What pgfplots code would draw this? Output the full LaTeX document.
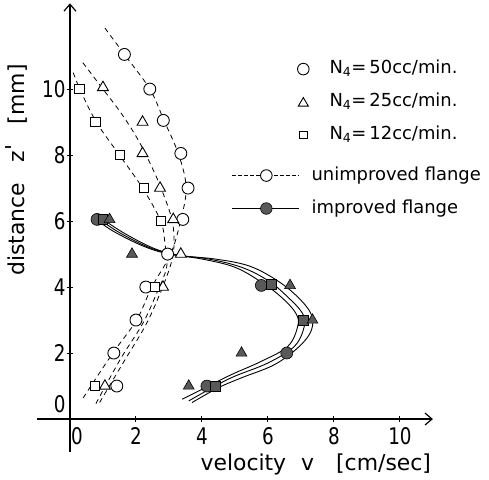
\documentclass[border=0pt]{standalone}
\usepackage{fontspec}
\setmainfont{DejaVu Sans}
\newfontfamily\tickfont{DejaVu Sans}[FakeStretch=0.8]
\usepackage{pgfplots}
\pgfplotsset{compat=1.18}
\usetikzlibrary{arrows.meta}
\begin{document}
\begin{tikzpicture}
\begin{axis}[
  x=33bp, y=33bp,
  xmin=-1, xmax=11, ymin=-1, ymax=12.6,
  axis lines=middle,
  axis line style={line width=1.2pt, -{Straight Barb[length=7pt,width=12pt]}},
  clip=false,
  xtick={2,4,6,8,10},
  ytick={2,4,6,8,10},
  extra x ticks={0}, extra x tick style={xticklabel style={xshift=7bp}},
  extra y ticks={0}, extra y tick style={yticklabel style={yshift=15bp}},
  hide obscured x ticks=false, hide obscured y ticks=false,
  tick style={black, line width=1pt}, major tick length=6bp,
  tick align=center,
  /pgf/number format/assume math mode=true,
  ticklabel style={font=\fontsize{23}{26}\tickfont},
  xticklabel style={yshift=-2bp},
  yticklabel style={xshift=2bp},
  every axis x label/.style={at={(axis cs:7.45,-1.38)}, anchor=center, font=\fontsize{22}{25}\selectfont},
  every axis y label/.style={at={(axis cs:-1.62,7.55)}, anchor=center, rotate=90, font=\fontsize{22}{25}\selectfont},
  xlabel={velocity\hspace{15bp}v\hspace{22bp}[cm/sec]},
  ylabel={distance\hspace{20bp}z\kern1pt\raisebox{3pt}{\textquotesingle}\hspace{20bp}[mm]},
  legend style={at={(axis cs:4.9,10.93)}, anchor=north west, draw=none, fill=none,
    font=\fontsize{18}{21}\selectfont, row sep=12bp, inner sep=0pt,
    nodes={text height=13bp, text depth=4bp},
    /tikz/every even column/.style={column sep=12bp}},
  legend cell align=left,
]
% unimproved (dashed) curves
\addplot[black, line width=0.8pt, dash pattern=on 5bp off 4bp, smooth, tension=0.6, forget plot] coordinates {
(1.06,11.85)(1.65,11.05)(2.42,10.0)(2.85,9.05)(3.3,8.0)(3.52,7.0)(3.35,6.0)(3.05,5.0)(2.48,4.0)(2.02,3.0)(1.3,2.0)(0.36,0.58)};
\addplot[black, line width=0.8pt, dash pattern=on 5bp off 4bp, smooth, tension=0.6, forget plot] coordinates {
(0.39,10.8)(1.0,10.0)(1.6,9.2)(2.1,8.4)(2.5,7.6)(2.8,6.9)(3.1,6.0)(3.15,5.2)(3.03,4.6)(2.67,3.66)(2.27,2.8)(1.61,1.7)(0.85,0.42)};
\addplot[black, line width=0.8pt, dash pattern=on 5bp off 4bp, smooth, tension=0.6, forget plot] coordinates {
(0.1,10.5)(0.3,10.0)(0.8,9.0)(1.5,8.0)(2.2,7.0)(2.75,6.0)(2.88,5.3)(2.93,4.6)(2.58,3.7)(2.18,2.85)(1.52,1.8)(0.76,0.42)};
% improved (solid) curves
\addplot[black, line width=0.9pt, smooth, tension=0.6, forget plot] coordinates {
(0.8,6.05)(1.3,5.7)(2.2,5.25)(3.0,5.0)(4.0,4.85)(5.0,4.6)(5.8,4.15)(6.4,3.7)(6.85,3.2)(6.9,2.8)(6.6,2.2)(5.8,1.75)(4.9,1.35)(4.2,1.0)(3.4,0.6)};
\addplot[black, line width=0.9pt, smooth, tension=0.6, forget plot] coordinates {
(0.9,6.05)(1.5,5.65)(2.4,5.2)(3.2,4.98)(4.2,4.85)(5.2,4.6)(6.0,4.2)(6.6,3.7)(7.05,3.2)(7.1,2.8)(6.8,2.2)(6.0,1.7)(5.0,1.3)(4.4,1.0)(3.6,0.55)};
\addplot[black, line width=0.9pt, smooth, tension=0.6, forget plot] coordinates {
(1.0,6.05)(1.7,5.6)(2.6,5.15)(3.4,4.95)(4.4,4.85)(5.4,4.65)(6.2,4.25)(6.85,3.75)(7.3,3.2)(7.32,2.7)(6.95,2.2)(6.2,1.65)(5.2,1.25)(4.5,0.95)(3.7,0.5)};
% open markers (unimproved)
\addplot[only marks, mark=*, mark size=6pt, mark options={fill=white, draw=black, line width=0.9pt}, forget plot] coordinates {
(1.65,11.05)(2.42,10.0)(2.83,9.05)(3.36,8.05)(3.58,7.0)(3.42,6.05)(2.96,5.0)(2.3,4.0)(2.0,3.0)(1.33,2.0)(1.42,1.0)};
\addplot[only marks, mark=triangle*, mark size=6.3pt, mark options={fill=white, draw=black, line width=0.9pt}, forget plot] coordinates {
(1.0,10.05)(2.2,9.0)(2.2,8.05)(2.73,7.0)(3.13,6.05)(3.36,5.0)(2.82,4.0)(1.06,1.0)};
\addplot[only marks, mark=square*, mark size=4.8pt, mark options={fill=white, draw=black, line width=0.9pt}, forget plot] coordinates {
(0.28,10.0)(0.78,9.0)(1.52,8.0)(2.24,7.0)(2.76,6.0)(2.58,4.0)(0.76,1.0)};
% filled markers (improved)
\addplot[only marks, mark=*, mark size=6pt, mark options={fill=black!65, draw=black, line width=0.6pt}, forget plot] coordinates {
(0.82,6.05)(5.8,4.05)(6.57,2.0)(4.15,1.0)};
\addplot[only marks, mark=square*, mark size=4.8pt, mark options={fill=black!65, draw=black, line width=0.6pt}, forget plot] coordinates {
(1.0,6.05)(6.1,4.08)(7.07,3.0)(4.4,1.0)};
\addplot[only marks, mark=triangle*, mark size=6.3pt, mark options={fill=black!65, draw=black, line width=0.6pt}, forget plot] coordinates {
(1.2,6.05)(1.88,5.0)(6.67,4.05)(7.35,3.0)(5.2,2.0)(3.6,1.0)};
% legend
\addlegendimage{legend image code/.code={\draw[black, line width=0.9pt] (71bp,0) circle (5.8bp); \path[draw=none] (0,0) -- (76bp,0);}}
\addlegendentry{\hspace{18bp}N\textsubscript{4}=\,50cc/min.}
\addlegendimage{legend image code/.code={\draw[black, line width=0.9pt] (71bp,4.5bp) -- ++(-5bp,-8.5bp) -- ++(10bp,0) -- cycle; \path[draw=none] (0,0) -- (76bp,0);}}
\addlegendentry{\hspace{18bp}N\textsubscript{4}=\,25cc/min.}
\addlegendimage{legend image code/.code={\draw[black, line width=0.9pt] (71bp,0) +(-3.8bp,-3.8bp) rectangle +(3.8bp,3.8bp); \path[draw=none] (0,0) -- (76bp,0);}}
\addlegendentry{\hspace{18bp}N\textsubscript{4}=\,12cc/min.}
\addlegendimage{legend image code/.code={\draw[black, line width=0.8pt, dash pattern=on 3.5bp off 2.5bp] (0,0) -- (67bp,0); \draw[black, line width=0.9pt, fill=white] (34bp,0) circle (5.8bp); \path[draw=none] (0,0) -- (76bp,0); \path[draw=none] (0,18bp);}}
\addlegendentry{unimproved flange}
\addlegendimage{legend image code/.code={\draw[black, line width=1pt] (0,0) -- (67bp,0); \draw[black, line width=0.6pt, fill=black!65] (34bp,0) circle (5.8bp); \path[draw=none] (0,0) -- (76bp,0); \path[draw=none] (0,7bp);}}
\addlegendentry{improved flange}
\coordinate (bbA) at (axis cs:-2.12,-1.82);
\coordinate (bbB) at (axis cs:12.70,12.70);
\end{axis}
\pgfresetboundingbox
\path[use as bounding box] (bbA) rectangle (bbB);
\end{tikzpicture}
\end{document}
